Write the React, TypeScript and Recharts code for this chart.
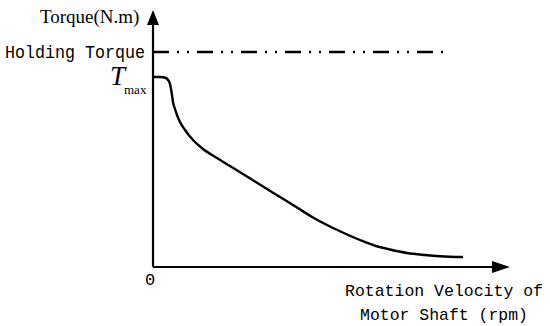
import React from "react";
import { LineChart, Line, XAxis, YAxis, ReferenceLine } from "recharts";

// motor speed (rpm) and torque (N.m)
const speed = [0, 70, 130, 150, 170, 180, 190, 200, 220, 240, 270, 320, 400, 500, 640, 770, 940, 1100, 1270, 1440, 1600, 1770, 1920, 2070, 2200, 2370, 2540, 2720, 2870, 3100];
const torque = [1.9, 1.9, 1.89, 1.87, 1.83, 1.78, 1.72, 1.65, 1.58, 1.52, 1.45, 1.37, 1.27, 1.18, 1.09, 1.01, 0.905, 0.805, 0.7, 0.595, 0.495, 0.405, 0.335, 0.27, 0.22, 0.175, 0.14, 0.12, 0.108, 0.1];

const holdingSpeed = [0, 2930];
const holdingTorque = [2.15, 2.15];

const xMax = 3570;
const yMax = 2.57;

const curveData = speed.map((x, i) => ({ x, y: torque[i] }));
const holdingData = holdingSpeed.map((x, i) => ({ x, y: holdingTorque[i] }));

const W = 550;
const H = 326;

const arrowAxis = (len: number, half: number) => (props: any) => {
    const { x1, y1, x2, y2 } = props;
    const ang = Math.atan2(y2 - y1, x2 - x1);
    const bx = x2 - len * Math.cos(ang);
    const by = y2 - len * Math.sin(ang);
    const px = -Math.sin(ang) * half;
    const py = Math.cos(ang) * half;
    return (
        <g>
            <line x1={x1} y1={y1} x2={bx} y2={by} stroke="#000" strokeWidth={2.2} />
            <polygon points={`${x2},${y2} ${bx + px},${by + py} ${bx - px},${by - py}`} fill="#000" />
        </g>
    );
};

const mono = "'Liberation Mono', monospace";
const serif = "'Liberation Serif', serif";

export default function App() {
    return (
        <div style={{ position: "absolute", left: 0, top: 0, width: W, height: H, background: "#fff" }}>
            <LineChart width={W} height={H} margin={{ top: 10, right: 40, bottom: 59, left: 153 }}>
                <XAxis type="number" dataKey="x" domain={[0, xMax]} hide allowDataOverflow />
                <YAxis type="number" dataKey="y" domain={[0, yMax]} hide allowDataOverflow />
                <ReferenceLine
                    segment={[{ x: 0, y: 0 }, { x: xMax, y: 0 }]}
                    shape={arrowAxis(18, 6)}
                />
                <ReferenceLine
                    segment={[{ x: 0, y: 0 }, { x: 0, y: yMax }]}
                    shape={arrowAxis(15, 6)}
                />
                <Line
                    data={holdingData}
                    dataKey="y"
                    type="linear"
                    stroke="#000"
                    strokeWidth={2.6}
                    strokeDasharray="16 8 2 8 2 8"
                    dot={false}
                    isAnimationActive={false}
                />
                <Line
                    data={curveData}
                    dataKey="y"
                    type="monotone"
                    stroke="#000"
                    strokeWidth={2.4}
                    dot={false}
                    isAnimationActive={false}
                />
            </LineChart>
            <svg width={W} height={H} style={{ position: "absolute", left: 0, top: 0, pointerEvents: "none" }}>
                <text x={40} y={23} fontFamily={serif} fontSize={19} fill="#000">Torque(N.m)</text>
                <text x={5} y={58} fontFamily={mono} fontSize={18} textLength={140} lengthAdjust="spacingAndGlyphs" fill="#000">Holding Torque</text>
                <text x={110} y={85} fontFamily={serif} fontStyle="italic" fontSize={27} fill="#000">T</text>
                <text x={124} y={94} fontFamily={serif} fontSize={13} fill="#000">max</text>
                <text x={145} y={285} fontFamily={mono} fontSize={17} fill="#000">0</text>
                <text x={345} y={296} fontFamily={mono} fontSize={17} textLength={198} lengthAdjust="spacingAndGlyphs" fill="#000">Rotation Velocity of</text>
                <text x={360} y={320} fontFamily={mono} fontSize={17} textLength={168} lengthAdjust="spacingAndGlyphs" fill="#000">Motor Shaft (rpm)</text>
            </svg>
        </div>
    );
}
